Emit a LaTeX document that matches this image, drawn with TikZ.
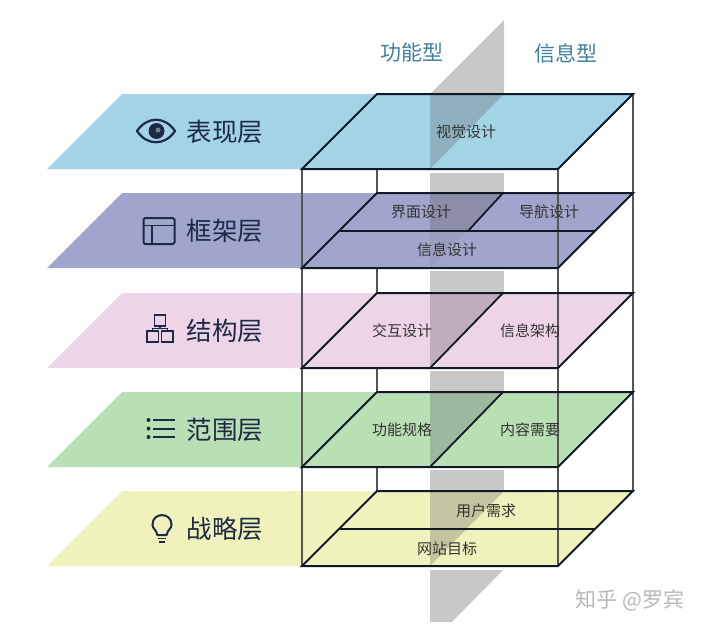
\documentclass[tikz,border=0pt]{standalone}
\usepackage{fontspec}
\setmainfont{Noto Sans CJK SC}
\definecolor{inkline}{HTML}{0F1A26}
\definecolor{edgeline}{HTML}{555555}
\definecolor{planegray}{HTML}{C8C8C8}
\definecolor{navy}{HTML}{1E2A45}
\definecolor{teal}{HTML}{3F7F9E}
\definecolor{lOne}{HTML}{A3D4E6}\definecolor{tOne}{HTML}{8FB0BE}
\definecolor{lTwo}{HTML}{A0A6CB}\definecolor{tTwo}{HTML}{8C8EA8}
\definecolor{lThree}{HTML}{EDD4E6}\definecolor{tThree}{HTML}{BFADBF}
\definecolor{lFour}{HTML}{B9DFB5}\definecolor{tFour}{HTML}{9CB89E}
\definecolor{lFive}{HTML}{EFF2BA}\definecolor{tFive}{HTML}{C4C4A0}
\tikzset{
  x=1pt,y=-1pt,
  layeredge/.style={draw=inkline,line width=2pt,line join=miter},
  divider/.style={draw=inkline,line width=1.8pt},
  frameedge/.style={draw=edgeline,line width=1.2pt},
  subtext/.style={font=\fontsize{15}{16}\selectfont,text=black!80,inner sep=0pt},
  layertext/.style={font=\fontsize{25.5}{26}\selectfont,text=navy,inner sep=0pt},
  headtext/.style={font=\fontsize{21}{22}\selectfont,text=teal,inner sep=0pt},
  iconline/.style={draw=navy,line width=1.8pt},
}
\newcommand{\slab}[3]{% #1 top y, #2 fill, #3 triangle fill
  \fill[#2] (47,#1+75) -- (122,#1) -- (633,#1) -- (558,#1+75) -- cycle;
  \fill[#3] (430,#1) -- (504,#1) -- (430,#1+75) -- cycle;
}
\newcommand{\slabedge}[1]{%
  \draw[layeredge] (302,#1+75) -- (377,#1) -- (633,#1) -- (558,#1+75) -- cycle;
}
\begin{document}
\begin{tikzpicture}
\useasboundingbox (0,0) rectangle (702,629);
\fill[white] (0,0) rectangle (702,629);
% gray plane, visible parts
\fill[planegray] (430,94) -- (504,20) -- (504,94) -- cycle;
\fill[planegray] (430,172.5) rectangle (504,193);
\fill[planegray] (430,271) rectangle (504,293);
\fill[planegray] (430,371) rectangle (504,392);
\fill[planegray] (430,470) rectangle (504,491);
\fill[planegray] (430,570) -- (503,570) -- (452,622) -- (430,622) -- cycle;
% layers
\slab{94}{lOne}{tOne}
\slab{193}{lTwo}{tTwo}
\slab{293}{lThree}{tThree}
\slab{392}{lFour}{tFour}
\slab{491}{lFive}{tFive}
% the plane fades under the mid line of layer 2
\fill[lTwo,opacity=.65] (430,231) -- (468,231) -- (430,268) -- cycle;
% hidden back-left edge, visible in gaps
\draw[frameedge] (377,169) -- (377,193);
\draw[frameedge] (377,268) -- (377,293);
\draw[frameedge] (377,368) -- (377,392);
\draw[frameedge] (377,467) -- (377,491);
% front and back vertical edges
\draw[frameedge] (302,169) -- (302,566);
\draw[frameedge] (558,169) -- (558,566);
\draw[frameedge] (633,94) -- (633,491);
% layer outlines
\slabedge{94}
\slabedge{193}
\slabedge{293}
\slabedge{392}
\slabedge{491}
% dividers
\draw[divider] (340,231) -- (595,231);
\draw[divider] (503,193) -- (468,231);
\draw[divider] (503,293) -- (430,368);
\draw[divider] (503,392) -- (430,467);
\draw[divider] (340,529) -- (595,529);
% headings
\node[headtext] (hA) at (412,53) {功能型};
\node[headtext] (hB) at (566,53) {信息型};
% layer names
\node[layertext] (nA) at (225,132) {表现层};
\node[layertext] (nB) at (225,231) {框架层};
\node[layertext] (nC) at (225,331) {结构层};
\node[layertext] (nD) at (225,430) {范围层};
\node[layertext] (nE) at (225,529) {战略层};
% cell labels
\node[subtext] (a1) at (466,132) {视觉设计};
\node[subtext] (b1) at (421,212) {界面设计};
\node[subtext] (b2) at (549,212) {导航设计};
\node[subtext] (b3) at (447,250) {信息设计};
\node[subtext] (c1) at (402,331) {交互设计};
\node[subtext] (c2) at (530,331) {信息架构};
\node[subtext] (d1) at (402,430) {功能规格};
\node[subtext] (d2) at (530,430) {内容需要};
\node[subtext] (e1) at (486,511) {用户需求};
\node[subtext] (e2) at (447,549) {网站目标};
% watermark
\node[font=\fontsize{21}{22}\selectfont,text=black!28,inner sep=0pt] (wm) at (630,600) {知乎 @罗宾};
% eye icon
\draw[iconline,line width=2.2pt] (137,131) .. controls (147,116) and (165,116) .. (175,131) .. controls (165,146) and (147,146) .. (137,131) -- cycle;
\fill[navy] (156.5,131) circle (8);
\fill[navy!60] (158,130) circle (2.5);
% window icon
\draw[iconline,line width=2pt,rounded corners=1.5pt] (143.5,218) rectangle (174.5,244);
\draw[iconline] (143.5,225.5) -- (174.5,225.5) (152,225.5) -- (152,244);
% structure icon
\draw[iconline] (154.5,315) rectangle (165.5,326);
\draw[iconline] (147,331) rectangle (158.5,342);
\draw[iconline] (161.5,331) rectangle (173,342);
\draw[iconline,line width=1.4pt] (160,326) -- (160,328.5) (152.5,331) -- (152.5,328.5) -- (167.5,328.5) -- (167.5,331);
% list icon
\fill[navy] (148.5,420) circle (2) (148.5,428.5) circle (2) (148.5,437) circle (2);
\draw[iconline,line width=2pt] (153,420) -- (175,420) (153,428.5) -- (175,428.5) (153,437) -- (175,437);
% bulb icon
\draw[iconline,line width=2pt] (157.5,535) .. controls (156,529) and (152.5,529) .. (152.5,524.5)
  .. controls (152.5,512) and (171.5,512) .. (171.5,524.5)
  .. controls (171.5,529) and (168,529) .. (166.5,535) -- cycle;
\draw[iconline] (158,538.5) -- (166,538.5) (159,542) -- (165,542);
\end{tikzpicture}
\end{document}
